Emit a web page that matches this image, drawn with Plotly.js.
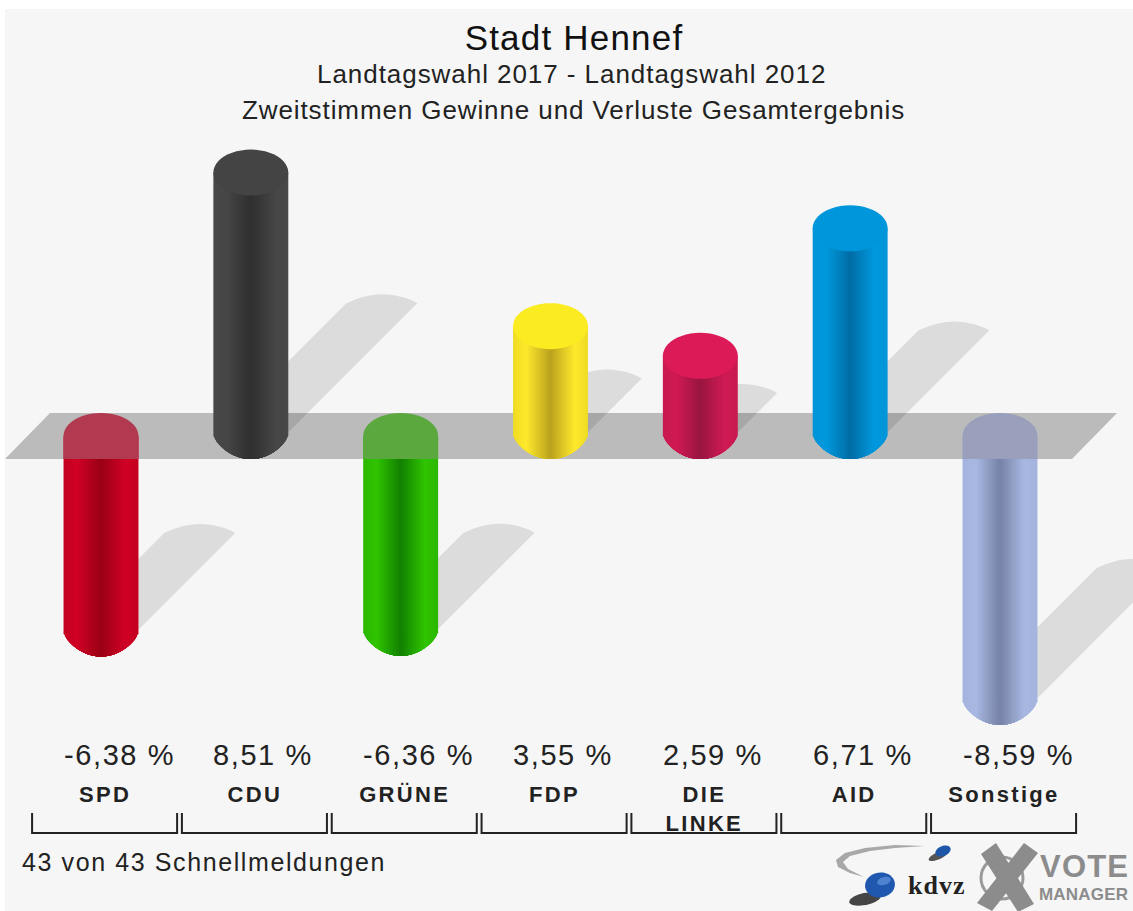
<!DOCTYPE html>
<html>
<head>
<meta charset="utf-8">
<script src="https://cdn.plot.ly/plotly-3.0.1.min.js"></script>
<style>
html,body{margin:0;padding:0;background:#fff}
#chart{width:1133px;height:911px}
#chart .bars path{shape-rendering:geometricPrecision !important}
#chart .gtitle{letter-spacing:1.2px}
#chart .xtick text{letter-spacing:2.3px}
</style>
</head>
<body>
<div id="chart"></div>
<script>
// ---- data ----
const categories = ["SPD", "CDU", "GRÜNE", "FDP", "DIE<br>LINKE", "AID", "Sonstige"];
const values = [-6.38, 8.51, -6.36, 3.55, 2.59, 6.71, -8.59];
const titleMain = "Stadt Hennef";
const titleSub1 = "Landtagswahl 2017 - Landtagswahl 2012";
const titleSub2 = "Zweitstimmen Gewinne und Verluste Gesamtergebnis";
const footnote = "43 von 43 Schnellmeldungen";

// ---- colours ----
const edgeColors   = ["#c4001f", "#484848", "#2cb800", "#efdc24", "#c81a50", "#0094d8", "#a4b4de"];
const brightColors = ["#d00026", "#464646", "#30c400", "#ffe92c", "#d01a54", "#0099de", "#a8b8e2"];
const centerColors = ["#9c0016", "#303030", "#128200", "#bba41e", "#9a1640", "#006ea6", "#7884a8"];
const capColors    = ["#b13a50", "#444444", "#5ba83f", "#faec20", "#dc1a58", "#0096dc", "#9a9fbc"];

// ---- geometry ----
const W = 1133, H = 911, plotBottom = 779;
const pxPerCat = 149.83, firstCat = 101, zeroPx = 436, pxPerUnit = 30.95;
const barWidth = 0.5, capRy = 23 / pxPerUnit;
const LEVELS = 26;
const fx = p => p / W;
const fy = p => 1 - p / plotBottom;
const yOf = p => (zeroPx - p) / pxPerUnit;
const xOf = p => (p - firstCat) / pxPerCat;
const hex = c => [1, 3, 5].map(i => parseInt(c.substr(i, 2), 16));
const mix = (a, b, t) => { const A = hex(a), B = hex(b); return "rgb(" + A.map((v, i) => Math.round(v + (B[i] - v) * t)).join(",") + ")"; };
const pathOf = pts => "M" + pts.map(p => p[0].toFixed(5) + "," + p[1].toFixed(5)).join("L") + "Z";
const shade = (i, t) => t < 0.35 ? mix(edgeColors[i], brightColors[i], t / 0.35) : mix(brightColors[i], centerColors[i], (t - 0.35) / 0.65);
const sp = (text, ls) => '<span style="letter-spacing:' + ls + 'px">' + text + '</span>';

const shapes = [];
const base = {xref: "x", yref: "y", line: {width: 0}};

// panel
shapes.push({type: "rect", xref: "paper", yref: "paper", layer: "below", x0: fx(5), x1: fx(W), y0: fy(9), y1: fy(H), fillcolor: "#f6f6f6", line: {width: 0}});
// plane
shapes.push({...base, type: "path", layer: "below", fillcolor: "#bbbbbb",
  path: pathOf([[xOf(5), yOf(459)], [xOf(1072), yOf(459)], [xOf(1117), yOf(413)], [xOf(50), yOf(413)]])});

// cast shadows
values.forEach((v, i) => {
  const xr = i + barWidth / 2, y0 = (v > 0 ? 0 : v) + 0.12, len = 129 * Math.abs(v) / 8.51;
  const tx = xr + len / pxPerCat, ty = y0 + len / pxPerUnit;
  const bw = 71 / pxPerCat, pts = [[xr - 0.02, y0 - 0.02 * pxPerCat / pxPerUnit], [tx, ty]];
  for (let k = 1; k <= 16; k++) {
    const u = k / 16;
    pts.push([tx - bw * u, ty + Math.pow(Math.sin(Math.PI * Math.min(1, u * 1.02)), 0.8) * 9 / pxPerUnit]);
  }
  pts.push([xr - 0.02, ty + (tx - bw - xr + 0.02) * pxPerCat / pxPerUnit * -1]);
  shapes.push({...base, type: "path", layer: "below", fillcolor: "rgba(0,0,0,0.105)", path: pathOf(pts)});
});

// bar end pieces: rounded lower ends (one strip per shading level), flat upper ends
values.forEach((v, i) => {
  const bottom = v > 0 ? 0 : v, top = v > 0 ? v : 0, r = barWidth / 2;
  const joinY = yOf(Math.floor(zeroPx - bottom * pxPerUnit + 1e-6));
  for (let l = 0; l < LEVELS; l++) {
    const w = r * (1 - l / LEVELS), pts = [[i - w, joinY]];
    for (let k = 0; k <= 16; k++) {
      const x = -w + 2 * w * k / 16, u = x / r;
      pts.push([i + x, bottom - capRy * Math.pow(Math.max(0, 1 - u * u), 0.78)]);
    }
    pts.push([i + w, joinY]);
    shapes.push({...base, type: "path", layer: "above", fillcolor: shade(i, l / (LEVELS - 1)), path: pathOf(pts)});
  }
  const pts = [];
  if (v > 0) {
    for (let k = 0; k <= 48; k++) {
      const a = 2 * Math.PI * k / 48;
      pts.push([i + r * Math.cos(a), top + capRy * Math.sin(a)]);
    }
  } else {
    for (let k = 0; k <= 24; k++) {
      const a = Math.PI * k / 24;
      pts.push([i + r * Math.cos(a), top + capRy * Math.sin(a)]);
    }
    pts.push([i - r, yOf(459)], [i + r, yOf(459)]);
  }
  shapes.push({...base, type: "path", layer: "above", fillcolor: capColors[i], path: pathOf(pts)});
});

// category brackets
categories.forEach((c, i) => {
  const a = i - 0.46, b = i + 0.508;
  shapes.push({type: "path", xref: "x", yref: "paper", layer: "above", line: {color: "#222222", width: 2},
    path: "M" + a + "," + fy(813) + "L" + a + "," + fy(833) + "L" + b + "," + fy(833) + "L" + b + "," + fy(813)});
});

// ---- logos (drawn with paper coordinates) ----
const paperPath = pts => "M" + pts.map(p => fx(p[0]).toFixed(5) + "," + fy(p[1]).toFixed(5)).join("L") + "Z";
const pap = {xref: "paper", yref: "paper", type: "path", layer: "above", line: {width: 0}};
const ell = (cx, cy, rx, ry, rot) => {
  const out = [];
  for (let k = 0; k < 36; k++) {
    const a = 2 * Math.PI * k / 36, X = rx * Math.cos(a), Y = ry * Math.sin(a);
    out.push([cx + X * Math.cos(rot) - Y * Math.sin(rot), cy + X * Math.sin(rot) + Y * Math.cos(rot)]);
  }
  return out;
};
shapes.push({...pap, fillcolor: "#a8a8a8", path: paperPath([[925,846],[895,845],[865,848],[845,853],[836,860],[838,867],[850,873],[864,877],[848,869],[843,862],[850,856],[870,851],[895,848]])});
shapes.push({...pap, fillcolor: "rgba(30,30,30,0.75)", path: paperPath(ell(938, 856, 10, 3.5, -0.4))});
shapes.push({...pap, fillcolor: "#1f57a8", path: paperPath(ell(943, 851, 8, 5, -0.4))});
shapes.push({...pap, fillcolor: "rgba(25,25,25,0.8)", path: paperPath(ell(865, 899, 16, 6, -0.2))});
shapes.push({...pap, fillcolor: "#1f58ae", path: paperPath(ell(880, 885, 15, 12.5, -0.15))});
shapes.push({...pap, fillcolor: "#4f82d0", path: paperPath(ell(884, 881, 7, 4, -0.3))});
shapes.push({type: "circle", xref: "paper", yref: "paper", layer: "above", x0: fx(981), x1: fx(1023), y0: fy(899), y1: fy(857), fillcolor: "rgba(0,0,0,0)", line: {color: "#9a9a9a", width: 3}});
shapes.push({...pap, fillcolor: "#8c8c8c", path: paperPath([[981,854],[996,843],[1034,904],[1018,912]])});
shapes.push({...pap, fillcolor: "#8c8c8c", path: paperPath([[1024,843],[1038,853],[992,911],[977,903]])});

// ---- text ----
const font = "Liberation Sans, Arial, sans-serif";
const annotations = [];
const note = (text, x, y, size, extra) => annotations.push({text, x, y, xref: "paper", yref: "paper", showarrow: false, xanchor: "center", yanchor: "middle", font: {family: font, size, color: "#222222"}, ...extra});

note(sp(titleSub1, 0.95), fx(571), fy(74), 26);
note(sp(titleSub2, 0.9), fx(573), fy(110), 26);
note(sp(footnote, 1.6), fx(20), fy(862), 25, {xanchor: "left"});
note(sp("VOTE", 1.2), fx(1038), fy(866), 31, {xanchor: "left", font: {family: font, size: 31, color: "#8c8c8c", weight: 700}});
note(sp("MANAGER", 0.2), fx(1037), fy(894), 17, {xanchor: "left", font: {family: font, size: 17, color: "#8c8c8c", weight: 700}});
note(sp("kdvz", 1), fx(937), fy(886), 26, {font: {family: "Liberation Serif, serif", size: 26, color: "#222222", weight: 700}});

values.forEach((v, i) => {
  annotations.push({text: sp(v.toFixed(2).replace(".", ",") + " %", 1.6), x: i - barWidth / 2, xref: "x", y: fy(755), yref: "paper", showarrow: false, xanchor: "left", yanchor: "middle", xshift: -2, font: {family: font, size: 29, color: "#222222"}});
});

// ---- traces: one nested bar per shading level, so each bar reads as a cylinder ----
const traces = [];
for (let l = 0; l < LEVELS; l++) {
  traces.push({
    type: "bar", x: categories, y: values,
    width: barWidth * (1 - l / LEVELS),
    marker: {color: values.map((v, i) => shade(i, l / (LEVELS - 1))), line: {width: 0}},
    hoverinfo: "skip", showlegend: false
  });
}

const layout = {
  width: W, height: H, margin: {l: 0, r: 0, t: 0, b: H - plotBottom, pad: 0},
  paper_bgcolor: "#ffffff", plot_bgcolor: "rgba(0,0,0,0)", barmode: "overlay", showlegend: false,
  title: {text: titleMain, x: 574 / W, xanchor: "center", y: 1 - 38 / H, yanchor: "middle", yref: "container", font: {family: font, size: 35, color: "#111111"}},
  xaxis: {type: "category", categoryorder: "array", categoryarray: categories, range: [xOf(0), xOf(W)], showgrid: false, zeroline: false, showline: false, ticks: "", ticklabelshift: 4,
    tickfont: {family: font, size: 22, color: "#222222", weight: 700}, tickangle: 0, fixedrange: true},
  yaxis: {range: [yOf(plotBottom), yOf(0)], visible: false, showgrid: false, zeroline: false, fixedrange: true},
  shapes, annotations
};
Plotly.newPlot("chart", traces, layout, {displayModeBar: false, staticPlot: true});
</script>
</body>
</html>
